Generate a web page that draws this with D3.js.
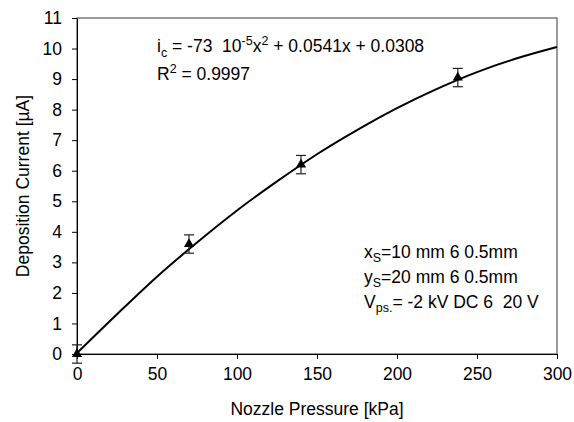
<!DOCTYPE html>
<html>
<head>
<meta charset="utf-8">
<script src="https://cdn.jsdelivr.net/npm/d3@7"></script>
<style>
  body { margin: 0; background: #fff; }
  svg { font-family: "Liberation Sans", Arial, sans-serif; }
  text { white-space: pre; }
</style>
</head>
<body>
<div id="chart"></div>
<script>
// measured points (nozzle pressure vs deposition current)
const pressure = [0, 70, 140, 238]
const current = [0, 3.6, 6.2, 9.05]
const errors = [0.3, 0.3, 0.3, 0.3]

// trend line
const fitPressure = [0, 25, 50, 75, 100, 125, 150, 175, 200, 225, 250, 275, 300]
const fitCurrent = [0.03, 1.3, 2.53, 3.65, 4.7, 5.65, 6.54, 7.33, 8.05, 8.68, 9.23, 9.68, 10.05]

const xTicks = [0, 50, 100, 150, 200, 250, 300]
const yTicks = [0, 1, 2, 3, 4, 5, 6, 7, 8, 9, 10, 11]

const W = 574, H = 422
const margin = { top: 18, right: 17, bottom: 68, left: 77 }
const width = W - margin.left - margin.right,
    height = H - margin.top - margin.bottom
const fs = 17.5

const svg = d3.select("#chart")
    .append("svg")
    .attr("width", W)
    .attr("height", H)

const g = svg.append("g")
    .attr("transform", `translate(${margin.left},${margin.top})`)

const x = d3.scaleLinear().domain([0, 300]).range([0, width])
const y = d3.scaleLinear().domain([0, 11]).range([height, 0])

// plot area frame
g.append("rect")
    .attr("x", 0).attr("y", 0)
    .attr("width", width).attr("height", height)
    .attr("fill", "none")
    .attr("stroke", "#666")
    .attr("stroke-width", 1.3)

const xAxis = g.append("g")
    .attr("transform", `translate(0,${height})`)
    .call(d3.axisBottom(x).tickValues(xTicks).tickSize(5).tickSizeOuter(0).tickPadding(9))
xAxis.select(".domain").attr("stroke", "#000")
xAxis.selectAll("text").attr("font-size", fs).attr("fill", "#000").attr("font-family", "Liberation Sans, Arial, sans-serif")

const yAxis = g.append("g")
    .call(d3.axisLeft(y).tickValues(yTicks).tickSize(5).tickSizeOuter(0).tickPadding(10))
yAxis.select(".domain").attr("stroke", "#000")
yAxis.selectAll("text").attr("font-size", fs).attr("fill", "#000").attr("font-family", "Liberation Sans, Arial, sans-serif")

// trend line
const line = d3.line()
    .x((d, i) => x(fitPressure[i]))
    .y(d => y(d))
    .curve(d3.curveMonotoneX)

g.append("path")
    .datum(fitCurrent)
    .attr("d", line)
    .attr("fill", "none")
    .attr("stroke", "#000")
    .attr("stroke-width", 2)

// error bars
const eb = g.selectAll(".err")
    .data(pressure)
    .enter()
    .append("g")
    .attr("class", "err")
    .attr("stroke", "#222")
    .attr("stroke-width", 1.2)

eb.append("line")
    .attr("x1", d => x(d)).attr("x2", d => x(d))
    .attr("y1", (d, i) => y(current[i] - errors[i]))
    .attr("y2", (d, i) => y(current[i] + errors[i]))
eb.append("line")
    .attr("x1", d => x(d) - 5).attr("x2", d => x(d) + 5)
    .attr("y1", (d, i) => y(current[i] + errors[i]))
    .attr("y2", (d, i) => y(current[i] + errors[i]))
eb.append("line")
    .attr("x1", d => x(d) - 5).attr("x2", d => x(d) + 5)
    .attr("y1", (d, i) => y(current[i] - errors[i]))
    .attr("y2", (d, i) => y(current[i] - errors[i]))

// triangle markers
g.selectAll(".pt")
    .data(pressure)
    .enter()
    .append("path")
    .attr("class", "pt")
    .attr("d", d3.symbol().type(d3.symbolTriangle).size(45))
    .attr("transform", (d, i) => `translate(${x(d)},${y(current[i])})`)
    .attr("fill", "#000")

// axis titles
svg.append("text")
    .attr("x", margin.left + width / 2)
    .attr("y", 415)
    .attr("text-anchor", "middle")
    .attr("font-size", fs)
    .text("Nozzle Pressure [kPa]")

svg.append("text")
    .attr("transform", `translate(29,${margin.top + height / 2}) rotate(-90)`)
    .attr("text-anchor", "middle")
    .attr("font-size", fs)
    .text("Deposition Current [µA]")

// fit equation
const eq = svg.append("text")
    .attr("x", 157)
    .attr("y", 52)
    .attr("font-size", fs)
eq.append("tspan").text("i")
eq.append("tspan").attr("font-size", 12.5).attr("dy", 5).text("c")
eq.append("tspan").attr("dy", -5).text(" = -73  10")
eq.append("tspan").attr("font-size", 12.5).attr("dy", -7).text("-5")
eq.append("tspan").attr("dy", 7).text("x")
eq.append("tspan").attr("font-size", 12.5).attr("dy", -7).text("2")
eq.append("tspan").attr("dy", 7).text(" + 0.0541x + 0.0308")

const r2 = svg.append("text")
    .attr("x", 157)
    .attr("y", 80)
    .attr("font-size", fs)
r2.append("tspan").text("R")
r2.append("tspan").attr("font-size", 12.5).attr("dy", -7).text("2")
r2.append("tspan").attr("dy", 7).text(" = 0.9997")

// experimental conditions
const condMain = ["x", "y", "V"]
const condSub = ["S", "S", "ps."]
const condRest = ["=10 mm 6 0.5mm", "=20 mm 6 0.5mm", "= -2 kV DC 6  20 V"]
condMain.forEach(function (c, i) {
    const t = svg.append("text")
        .attr("x", 364)
        .attr("y", 258 + i * 25)
        .attr("font-size", fs)
    t.append("tspan").text(c)
    t.append("tspan").attr("font-size", 12.5).attr("dy", 4).text(condSub[i])
    t.append("tspan").attr("dy", -4).text(condRest[i])
})
</script>
</body>
</html>
